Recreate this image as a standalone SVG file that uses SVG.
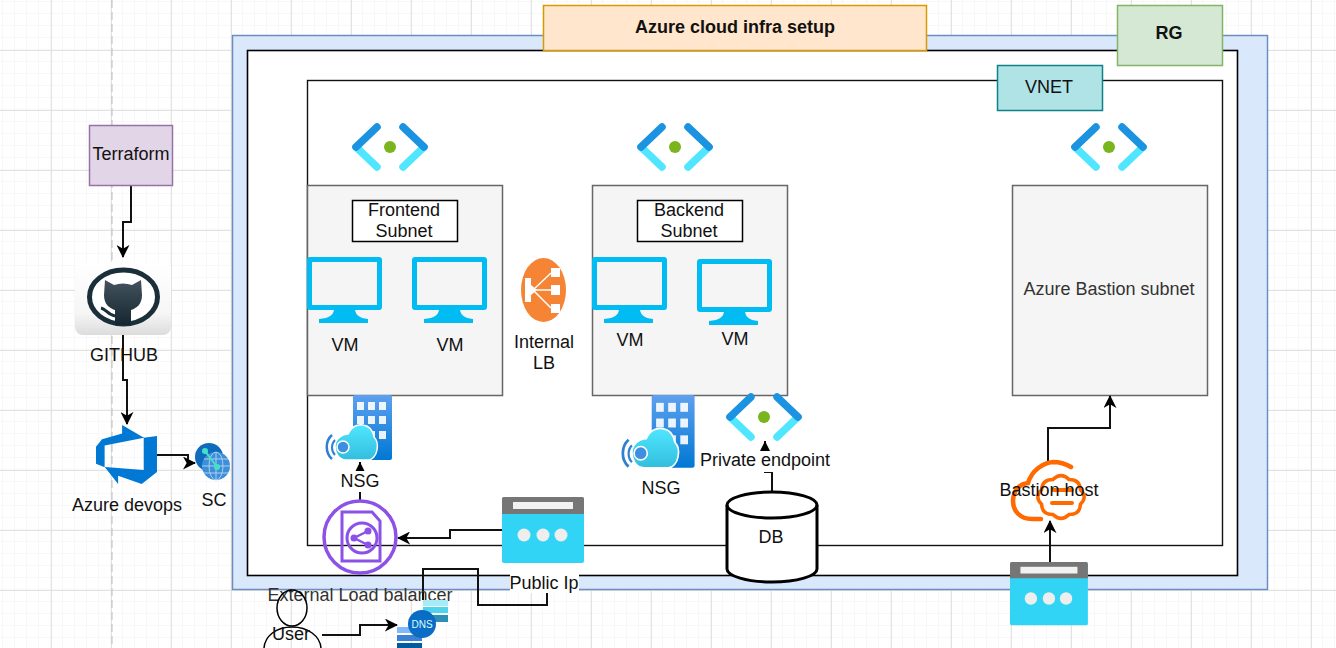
<svg xmlns="http://www.w3.org/2000/svg" xmlns:xlink="http://www.w3.org/1999/xlink" width="1336" height="648" viewBox="0 0 1336 648">
<style>
text{font-family:"Liberation Sans",Arial,sans-serif;font-size:18px;fill:#111;text-anchor:middle}
.b{font-weight:bold}
.c{fill:none;stroke:#111;stroke-width:2}
.bx{stroke-width:1.5}
</style>
<defs>
<pattern id="minor" width="12" height="12" patternUnits="userSpaceOnUse" x="3" y="2"><path d="M12 0V12M0 12H12" fill="none" stroke="#f1f1f1" stroke-width="1"/></pattern>
<pattern id="major" width="60" height="60" patternUnits="userSpaceOnUse" x="51" y="50"><path d="M0.5 0V60M0 0.5H60" fill="none" stroke="#e2e2e2" stroke-width="1"/></pattern>
<marker id="a" viewBox="0 0 14 14" refX="13" refY="7" markerWidth="13" markerHeight="13" markerUnits="userSpaceOnUse" orient="auto"><path d="M0 0L14 7L0 14L4 7Z" fill="#000"/></marker>
<marker id="t" viewBox="0 0 10 10" refX="10" refY="5" markerWidth="10" markerHeight="10" markerUnits="userSpaceOnUse" orient="auto"><path d="M0 0L10 5L0 10Z" fill="#000"/></marker>
<linearGradient id="bld" x1="0" y1="0" x2="0" y2="1"><stop offset="0" stop-color="#5ea0ef"/><stop offset="1" stop-color="#0078d4"/></linearGradient>
<linearGradient id="cl" x1="0" y1="0" x2="0" y2="1"><stop offset="0" stop-color="#50e6ff"/><stop offset="1" stop-color="#32bedd"/></linearGradient>
<linearGradient id="gh" x1="0" y1="0" x2="0" y2="1"><stop offset="0" stop-color="#fff"/><stop offset=".7" stop-color="#f6f6f6"/><stop offset="1" stop-color="#dcdcdc"/></linearGradient>
<linearGradient id="cat" x1="0" y1="0" x2="0" y2="1"><stop offset="0" stop-color="#44535f"/><stop offset="1" stop-color="#14262f"/></linearGradient>
<symbol id="vnet" overflow="visible"><g fill="none" stroke-width="7.500" stroke-linecap="round"><path d="M-34 0L-13 20M34 0L13 20" stroke="#50e6ff"/><path d="M-13 -20L-34 0M13 -20L34 0" stroke="#1b93e0"/></g><circle r="6" fill="#7ab51d"/></symbol>
<symbol id="vm" overflow="visible"><path fill-rule="evenodd" fill="#00bcf2" d="M3 0H72a3 3 0 0 1 3 3V50a3 3 0 0 1-3 3H3a3 3 0 0 1-3-3V3a3 3 0 0 1 3-3ZM5 5V48H70V5Z"/><path fill="#00bcf2" d="M27 53H48C49 58 52 61 61 62V66H12V62C23 61 26 58 27 53Z"/></symbol>
<symbol id="nsg" overflow="visible"><rect x="27" y="0" width="39" height="65" rx="2" fill="url(#bld)"/><g fill="#fff" opacity=".9"><rect x="31" y="7" width="7" height="8"/><rect x="42" y="7" width="7" height="8"/><rect x="53" y="7" width="7" height="8"/><rect x="31" y="21" width="7" height="8"/><rect x="42" y="21" width="7" height="8"/><rect x="53" y="21" width="7" height="8"/><rect x="42" y="36" width="7" height="8"/><rect x="53" y="36" width="7" height="8"/></g><path d="M20 65C12 65 9 57 9 51C9 44 16 39 22 39C25 32 31 29 37 30C44 31 47 36 48 42C51 45 52 50 51 55C50 61 46 65 42 65Z" fill="url(#cl)" stroke="#fff" stroke-width="1.500"/><path d="M6 40C-1 46 -1 58 6 64" fill="none" stroke="#2f80d0" stroke-width="2.500"/><path d="M9 45C5 49 5 56 9 60" fill="none" stroke="#2f80d0" stroke-width="2"/><circle cx="17" cy="52" r="6" fill="#3f8fe0" stroke="#fff" stroke-width="1.500"/></symbol>
<symbol id="ip" overflow="visible"><rect width="82" height="66" rx="2" fill="#32d4f5"/><path d="M0 17V2a2 2 0 0 1 2-2H80a2 2 0 0 1 2 2V17Z" fill="#767676"/><rect x="11" y="5" width="60" height="7" fill="#f2f2f2"/><g fill="#eee"><circle cx="22" cy="38" r="6.500"/><circle cx="41" cy="38" r="6.500"/><circle cx="59" cy="38" r="6.500"/></g></symbol>
</defs>
<rect width="1336" height="648" fill="#fff"/>
<rect width="1336" height="648" fill="url(#minor)"/>
<rect width="1336" height="648" fill="url(#major)"/>
<path d="M112 0V648" stroke="#bdbdbd" stroke-width="1" stroke-dasharray="8 4" fill="none"/>

<g id="containers">
<rect x="232.500" y="35.500" width="1035" height="554" fill="#dae8fc" stroke="#6c8ebf" stroke-width="1.500"/>
<rect x="247.500" y="50.500" width="990" height="525" fill="#fff" stroke="#000" stroke-width="1.600"/>
<rect x="307.500" y="80.500" width="915" height="465" fill="#fff" stroke="#111" stroke-width="1.400"/>
</g>
<g id="title"><rect x="543.500" y="5.500" width="383" height="45" fill="#ffe6cc" stroke="#d79b00" class="bx"/><text x="735" y="33" class="b">Azure cloud infra setup</text></g>
<g id="rg"><rect x="1117.500" y="5.500" width="105" height="60" fill="#d5e8d4" stroke="#82b366" class="bx"/><text x="1169" y="39" class="b">RG</text></g>
<g id="vnet-label"><rect x="997.500" y="65.500" width="105" height="45" fill="#b0e3e6" stroke="#0e8088" class="bx"/><text x="1049" y="93">VNET</text></g>
<use xlink:href="#vnet" href="#vnet" x="390" y="147"/>
<use xlink:href="#vnet" href="#vnet" x="675" y="147"/>
<use xlink:href="#vnet" href="#vnet" x="1109" y="147"/>

<g id="frontend"><rect x="307.500" y="185.500" width="195" height="210" fill="#f5f5f5" stroke="#666" class="bx"/>
<rect x="352.500" y="200.500" width="105" height="41" fill="#fff" stroke="#000" class="bx"/><text x="404" y="216">Frontend</text><text x="404" y="237">Subnet</text>
<use xlink:href="#vm" href="#vm" x="307" y="257"/><use xlink:href="#vm" href="#vm" x="412" y="257"/>
<text x="345" y="351">VM</text><text x="450" y="351">VM</text></g>
<g id="backend"><rect x="592.500" y="185.500" width="195" height="210" fill="#f5f5f5" stroke="#666" class="bx"/>
<rect x="637.500" y="200.500" width="105" height="41" fill="#fff" stroke="#000" class="bx"/><text x="689" y="216">Backend</text><text x="689" y="237">Subnet</text>
<use xlink:href="#vm" href="#vm" x="592" y="257"/><use xlink:href="#vm" href="#vm" x="697" y="259"/>
<text x="630" y="346">VM</text><text x="735" y="345">VM</text></g>
<g id="bastion-subnet"><rect x="1012.500" y="185.500" width="195" height="210" fill="#f5f5f5" stroke="#666" class="bx"/><text x="1109" y="295" style="fill:#333">Azure Bastion subnet</text></g>

<g id="internal-lb"><ellipse cx="543.500" cy="290" rx="22.500" ry="32" fill="#f58534"/>
<g fill="#fff"><path d="M525 278H531V285L537 290L531 295V302H525Z"/><rect x="551" y="268" width="9" height="9"/><rect x="551" y="285" width="9" height="10"/><rect x="551" y="304" width="9" height="9"/></g>
<path d="M533 290H551M533 290L551 273M533 290L551 308" stroke="#fff" stroke-width="1.500" fill="none"/>
<text x="544" y="348">Internal</text><text x="544" y="369">LB</text></g>

<g id="connectors">
<path class="c" d="M131 186V222H123V257" marker-end="url(#a)"/>
<path class="c" d="M123 335V380H127V424" marker-end="url(#a)"/>
<path class="c" d="M157 455H188V463H195" marker-end="url(#a)"/>
<path class="c" d="M360 500V462" marker-end="url(#t)"/>
<path class="c" d="M502 530H450V538H398" marker-end="url(#a)"/>
<path class="c" d="M547 592V605H478V569H423V600"/>
<path class="c" d="M322 635H360V625H397" marker-end="url(#a)"/>
<path class="c" d="M772 492V472H765V441" marker-end="url(#t)"/>
<path class="c" d="M1048 461V428H1110V396" marker-end="url(#a)"/>
<path class="c" d="M1050 562V521" marker-end="url(#a)"/>
</g>

<g id="nsg1"><use xlink:href="#nsg" href="#nsg" x="326" y="395"/><rect x="338" y="471" width="44" height="21" fill="#fff"/><text x="360" y="487">NSG</text></g>
<g id="nsg2"><use xlink:href="#nsg" href="#nsg" transform="translate(622 395) scale(1.1 1.12)"/><text x="661" y="494">NSG</text></g>
<g id="private-endpoint"><use xlink:href="#vnet" href="#vnet" x="764" y="417"/><rect x="700" y="451" width="130" height="21" fill="#fff"/><text x="765" y="466">Private endpoint</text></g>

<g id="elb"><circle cx="360" cy="537" r="36" fill="none" stroke="#8c52e8" stroke-width="3.500"/>
<path d="M342 512H372L380 521V561H342Z" fill="none" stroke="#8c52e8" stroke-width="3"/><circle cx="362" cy="538" r="15" fill="none" stroke="#8c52e8" stroke-width="3"/>
<path d="M368 531L354 538L368 545" fill="none" stroke="#8c52e8" stroke-width="2.500"/><g fill="#8c52e8"><circle cx="368" cy="531" r="3.500"/><circle cx="354" cy="538" r="3.500"/><circle cx="368" cy="545" r="3.500"/></g>
<text x="360" y="601" style="fill:#333">External Load balancer</text></g>

<g id="public-ip"><use xlink:href="#ip" href="#ip" x="502" y="497"/><rect x="510" y="574" width="69" height="19" fill="#fff"/><text x="544" y="589">Public Ip</text></g>

<g id="db"><path d="M727 505V569C727 576 747 582 772 582C797 582 817 576 817 569V505C817 498 797 492 772 492C747 492 727 498 727 505Z" fill="#fff" stroke="#000" stroke-width="3"/><path d="M727 505C727 512 747 518 772 518C797 518 817 512 817 505" fill="none" stroke="#000" stroke-width="3"/><text x="771" y="543">DB</text></g>

<g id="bastion"><g fill="none" stroke="#ff6a00" stroke-linecap="round" stroke-width="4.500"><path d="M1041 519H1032C1020 519 1013 511 1013 501C1013 491 1019 484 1028 483C1032 470 1043 463 1053 462C1060 462 1066 464 1071 467"/><path d="M1080.400 489.700Q1088 497 1080.400 504.300Q1080 514.700 1069 514.600Q1061 522 1053 514.600Q1042 514.700 1041.600 504.300Q1034 497 1041.600 489.700Q1042 479.300 1053 479.400Q1061 472 1069 479.400Q1080 479.300 1080.400 489.700Z" stroke-width="3.500"/><path d="M1053 490H1072M1052 503H1072" stroke-width="4"/></g><text x="1049" y="496">Bastion host</text></g>
<g id="public-ip2"><use xlink:href="#ip" href="#ip" transform="translate(1010 562) scale(.95 .96)"/></g>

<g id="user"><ellipse cx="292" cy="608" rx="15" ry="18" fill="none" stroke="#000" stroke-width="1.500"/><path d="M264 648C265 636 276 627 292 627C308 627 320 636 321 648" fill="none" stroke="#000" stroke-width="1.500"/><text x="291" y="640">User</text></g>

<g id="dns"><g><rect x="423" y="600" width="25" height="6" fill="#a5ecf8"/><rect x="423" y="607" width="25" height="6" fill="#50d4ee"/><rect x="423" y="615" width="25" height="7" fill="#2b8fb8"/><rect x="397" y="627" width="25" height="6" fill="#83b9f9"/><rect x="397" y="635" width="25" height="6" fill="#3b82d4"/><rect x="397" y="643" width="25" height="5" fill="#005ba1"/></g><circle cx="422" cy="624" r="14" fill="#0a6cc4"/><text x="422" y="628" style="font-size:10px;fill:#dff">DNS</text></g>

<g id="terraform"><rect x="89.500" y="125.500" width="83" height="60" fill="#e1d5e7" stroke="#9673a6" class="bx"/><text x="131" y="160">Terraform</text></g>
<g id="github"><rect x="75" y="262" width="96" height="73" rx="8" fill="url(#gh)"/><ellipse cx="123.500" cy="297" rx="34" ry="27" fill="#fff" stroke="#1b2f3b" stroke-width="5"/>
<g fill="url(#cat)"><path d="M105 280L114 285Q123 282 132 285L141 280L142 295C142 304 137 308 131 310V325H115V310C109 308 104 304 104 295Z"/></g><path d="M101 308C106 309 108 315 115 316" fill="none" stroke="#1b2f3b" stroke-width="3"/><text x="124" y="361">GITHUB</text></g>
<g id="devops"><path transform="translate(92.200 421.300) scale(3.810 3.690)" d="M17,4v9.74l-4,3.28-6.2-2.26V17L3.290,12.410l10.230.8V4.440Zm-3.410.49L7.850,1V3.290L2.580,4.840,1,6.870v4.610l2.260,1V6.570Z" fill="#0078d4"/><text x="127" y="511">Azure devops</text></g>
<g id="sc"><circle cx="209" cy="457" r="14" fill="#0f6cbd"/><circle cx="216" cy="466" r="14" fill="#3f8fd8"/><path d="M202 466H230M216 452V480M204 459H228M204 473H228" stroke="#a8d0f4" stroke-width="1" fill="none"/><ellipse cx="216" cy="466" rx="7" ry="14" fill="none" stroke="#a8d0f4" stroke-width="1"/><path d="M205 451L217 467" stroke="#45e0c8" stroke-width="2"/><circle cx="205" cy="451" r="3" fill="#45e0c8"/><circle cx="217" cy="467" r="3" fill="#45e0c8"/><text x="214" y="506">SC</text></g>
</svg>
